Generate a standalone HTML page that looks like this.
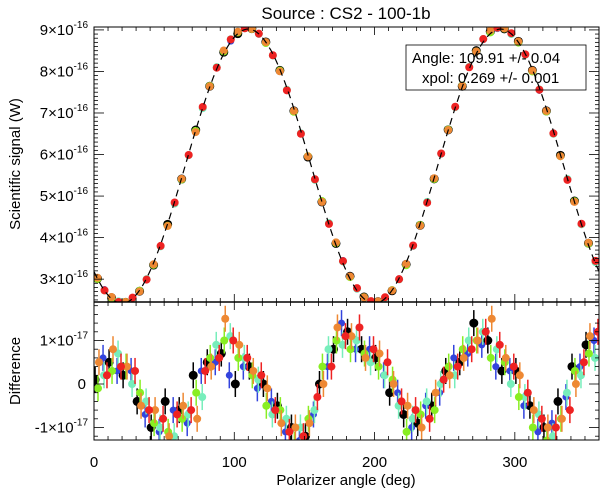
<!DOCTYPE html>
<html><head><meta charset="utf-8"><style>
body{margin:0;background:#fff;}
svg text{font-family:"Liberation Sans",sans-serif;fill:#000;}
</style></head><body>
<svg id="c" width="601" height="496" viewBox="0 0 601 496" xmlns="http://www.w3.org/2000/svg">
<text x="346" y="19" font-size="17" text-anchor="middle">Source : CS2 - 100-1b</text>
<g id="gtop"></g>
<g id="gbot"></g>
<g id="axes"></g>
<text transform="translate(20,164) rotate(-90)" font-size="15" text-anchor="middle">Scientific signal (W)</text>
<text transform="translate(20,371) rotate(-90)" font-size="15" text-anchor="middle">Difference</text>
<text x="346" y="485" font-size="15" text-anchor="middle">Polarizer angle (deg)</text>
<g>
<rect x="406" y="45" width="180" height="45" fill="none" stroke="#000" stroke-width="0.8"/>
<text x="412" y="63" font-size="15">Angle: 109.91 +/- 0.04</text>
<text x="422" y="83" font-size="15">xpol: 0.269 +/- 0.001</text>
</g>
</svg>
<script>
const angles=[2.5,7.5,12.5,17.5,22.5,27.5,32.5,37.5,42.5,47.5,52.5,57.5,62.5,67.5,72.5,77.5,82.5,87.5,92.5,97.5,102.5,107.5,112.5,117.5,122.5,127.5,132.5,137.5,142.5,147.5,152.5,157.5,162.5,167.5,172.5,177.5,182.5,187.5,192.5,197.5,202.5,207.5,212.5,217.5,222.5,227.5,232.5,237.5,242.5,247.5,252.5,257.5,262.5,267.5,272.5,277.5,282.5,287.5,292.5,297.5,302.5,307.5,312.5,317.5,322.5,327.5,332.5,337.5,342.5,347.5,352.5,357.5];
const signal=[3.01,2.72,2.53,2.43,2.43,2.54,2.73,3.02,3.39,3.84,4.34,4.88,5.44,6.02,6.58,7.13,7.62,8.06,8.43,8.72,8.91,9.01,9.01,8.90,8.71,8.42,8.05,7.60,7.10,6.56,6.00,5.42,4.86,4.31,3.82,3.38,3.01,2.72,2.53,2.43,2.43,2.54,2.73,3.02,3.39,3.84,4.34,4.88,5.44,6.02,6.58,7.13,7.62,8.06,8.43,8.72,8.91,9.01,9.01,8.90,8.71,8.42,8.05,7.60,7.10,6.56,6.00,5.42,4.86,4.31,3.82,3.38];
const diffBlack=[0.1,0.5,0.2,-0.4,-1.0,-0.4,-0.6,0.2,0.5,0.7,0.0,0.4,0.0,-0.5,-1.0,-1.2,0.0,0.8,1.2,0.8,0.6,-0.2,-0.7,-0.9,-0.5,0.3,0.5,1.4,1.0,0.3,0.3,-0.5,-1.0,-0.4,0.4,0.9];
const diffBlue=[0.6,0.3,0.3,-0.7,-1.1,-0.6,-0.9,0.3,0.5,0.2,0.4,-0.1,-0.4,-1.1,-1.3,-0.7,0.4,1.4,0.8,0.8,0.2,-0.2,-1.0,-0.5,-0.2,0.6,0.7,0.9,0.4,0.3,-0.5,-1.1,-0.9,-0.3,0.4,1.0];
const diffGreen=[-0.1,0.3,0.4,-0.2,-0.9,-1.1,-0.8,-0.2,0.6,1.0,0.6,0.2,-0.5,-0.6,-1.4,-0.8,0.4,1.0,0.8,0.7,0.4,0.1,-1.1,-0.7,-0.6,0.4,0.8,1.0,0.6,0.5,-0.3,-1.0,-1.3,-0.8,0.3,0.7];
const diffCyan=[0.2,0.7,0.0,-0.4,-1.0,-1.2,-0.7,-0.3,0.9,1.1,0.6,0.1,-0.7,-0.8,-1.0,-0.6,0.8,0.9,1.0,0.5,0.2,-0.5,-0.8,-0.4,0.0,0.2,1.0,1.2,0.8,0.0,-0.3,-0.7,-1.2,-0.2,0.2,0.6];
const diffOrange=[0.5,0.8,0.4,-0.5,-0.6,-1.2,-0.5,-0.8,0.4,1.5,0.9,0.3,-0.1,-0.9,-1.0,-0.9,0.0,1.3,1.1,0.6,0.7,0.0,-0.5,-1.0,-0.2,0.2,0.6,1.0,1.5,0.6,0.2,-0.6,-1.0,-0.8,0.0,1.1];
const diffRed=[0.2,0.4,0.3,-0.6,-0.8,-0.7,-0.6,0.3,0.6,1.0,0.6,0.2,-0.6,-1.1,-1.2,-0.3,0.4,1.1,1.3,0.8,0.5,-0.4,-0.6,-0.8,0.1,0.4,0.8,1.2,0.9,0.4,-0.2,-0.8,-1.0,-0.6,0.5,1.2];
const fitAngle=109.91, fitMean=5.72, fitAmp=3.3;
const xTicks=[0,100,200,300];
const yTopTicks=[3,4,5,6,7,8,9];
const yBotTicks=[-1,0,1];
const yBotLabels=["-1\u00d710","0","1\u00d710"];

const NS="http://www.w3.org/2000/svg";
const L=94,R=599,T=27,M=302,B=440;
const xs=v=>L+(v/360)*(R-L);
const yt=v=>T+(9.07-v)/(9.07-2.45)*(M-T);
const yb=v=>384-v*43.5;
function mk(tag,attrs,parent){const e=document.createElementNS(NS,tag);for(const k in attrs)e.setAttribute(k,attrs[k]);parent.appendChild(e);return e;}
const gTop=document.getElementById('gtop'),gBot=document.getElementById('gbot'),ax=document.getElementById('axes');
const defs=mk('defs',{},document.getElementById('c'));
const c1=mk('clipPath',{id:'ct'},defs);mk('rect',{x:L,y:T,width:R-L,height:M-T},c1);
const c2=mk('clipPath',{id:'cb'},defs);mk('rect',{x:L,y:M,width:R-L,height:B-M},c2);
gTop.setAttribute('clip-path','url(#ct)');gBot.setAttribute('clip-path','url(#cb)');

const series=[
 {d:diffBlack,c:'#000',off:0,r:4.5,n:'black'},
 {d:diffBlue,c:'#3344dd',off:1,r:3.5,n:'blue'},
 {d:diffCyan,c:'#77eebb',off:1,r:4,n:'cyan'},
 {d:diffGreen,c:'#88ee22',off:0,r:4,n:'green'},
 {d:diffOrange,c:'#ee8833',off:0,r:4,n:'orange'},
 {d:diffRed,c:'#ee2222',off:1,r:4,n:'red'}];
series.forEach((s,si)=>{
 s.d.forEach((v,i)=>{
  const idx=i*2+s.off; const a=angles[idx];
  const p=mk('circle',{cx:xs(a),cy:yt(signal[idx]+v*0.05),r:s.r,fill:s.c},gTop);
  
  
 });
});
let d='';for(let a=0;a<=360;a+=1){const v=fitMean-fitAmp*Math.cos(2*(a-fitAngle+90)*Math.PI/180);d+=(a?'L':'M')+xs(a).toFixed(1)+','+yt(v).toFixed(1);}
const fit=mk('path',{d:d,fill:'none',stroke:'#000','stroke-width':1.2,'stroke-dasharray':'7,5'},gTop);


series.forEach((s,si)=>{
 s.d.forEach((v,i)=>{
  const a=angles[i*2+s.off]+(si-2.5)*0.7;
  const eb=mk('line',{x1:xs(a),x2:xs(a),y1:yb(v)-13,y2:yb(v)+13,stroke:s.c,'stroke-width':1.5},gBot);
  
  
  const p=mk('circle',{cx:xs(a),cy:yb(v),r:s.r,fill:s.c},gBot);
  
  
 });
});
mk('rect',{x:L,y:T,width:R-L,height:B-T,fill:'none',stroke:'#000','stroke-width':1},ax);
mk('line',{x1:L,x2:R,y1:M,y2:M,stroke:'#000','stroke-width':1.5},ax);
for(let a=0;a<=360;a+=10){const maj=a%100===0;const h=maj?8:4;
 [T,M].forEach(y0=>mk('line',{x1:xs(a),x2:xs(a),y1:y0,y2:y0+h,stroke:'#000','stroke-width':0.8},ax));
 [M,B].forEach(y0=>mk('line',{x1:xs(a),x2:xs(a),y1:y0,y2:y0-h,stroke:'#000','stroke-width':0.8},ax));}
xTicks.forEach(t=>{const e=mk('text',{x:xs(t),y:467,'font-size':15,'text-anchor':'middle'},ax);e.textContent=t;
 
 });
for(let v=2.5;v<=9.05;v+=0.1){const vv=Math.round(v*10)/10;const maj=Math.abs(vv-Math.round(vv))<0.01;const h=maj?10:4;
 mk('line',{x1:L,x2:L+h,y1:yt(vv),y2:yt(vv),stroke:'#000','stroke-width':0.8},ax);
 mk('line',{x1:R,x2:R-h,y1:yt(vv),y2:yt(vv),stroke:'#000','stroke-width':0.8},ax);}
yTopTicks.forEach(t=>{const e=mk('text',{x:88,y:yt(t)+5,'font-size':15,'text-anchor':'end'},ax);
 
 
 e.innerHTML=t+'\u00d710<tspan font-size="10" dy="-7">-16</tspan>';});
for(let v=-1.2;v<=1.85;v+=0.2){const vv=Math.round(v*10)/10;const maj=Math.abs(vv-Math.round(vv))<0.01;const h=maj?10:4;
 mk('line',{x1:L,x2:L+h,y1:yb(vv),y2:yb(vv),stroke:'#000','stroke-width':0.8},ax);
 mk('line',{x1:R,x2:R-h,y1:yb(vv),y2:yb(vv),stroke:'#000','stroke-width':0.8},ax);}
yBotTicks.forEach((t,i)=>{const e=mk('text',{x:t===0?86:88,y:yb(t)+5,'font-size':15,'text-anchor':'end'},ax);
 
 
 e.innerHTML=yBotLabels[i]+(t===0?'':'<tspan font-size="10" dy="-7">-17</tspan>');});
</script>
</body></html>
